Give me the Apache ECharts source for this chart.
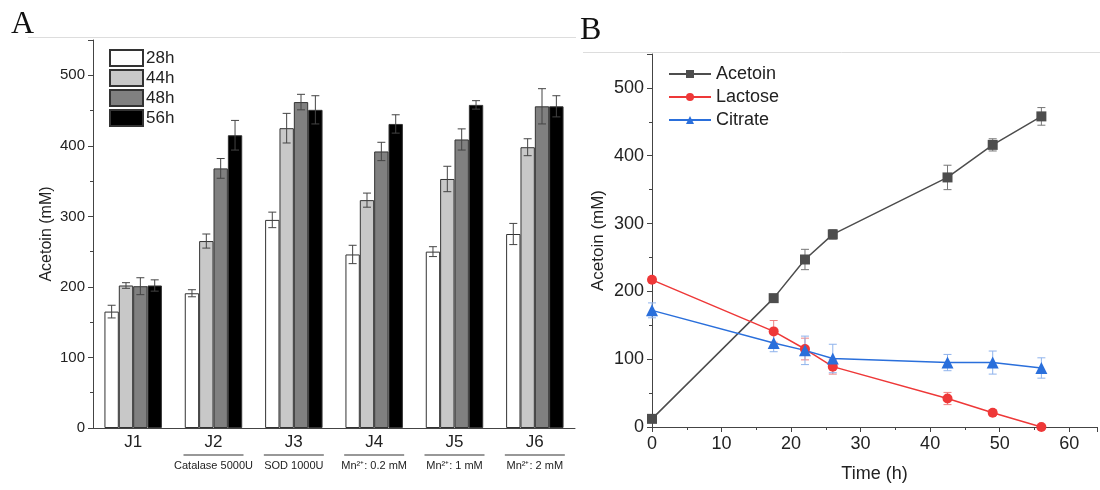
<!DOCTYPE html>
<html>
<head>
<meta charset="utf-8">
<script src="https://cdn.jsdelivr.net/npm/echarts@6/dist/echarts.min.js"></script>
<style>
html, body { margin: 0; padding: 0; background: #fff; }
#main { width: 1100px; height: 490px; }
</style>
</head>
<body>
<div id="main"></div>
<script>
// 面板A：各组别在不同时间的乙偶姻产量
var groups = ['J1', 'J2', 'J3', 'J4', 'J5', 'J6'];
var groupNotes = ['', 'Catalase 5000U', 'SOD 1000U', 'Mn²⁺: 0.2 mM', 'Mn²⁺: 1 mM', 'Mn²⁺: 2 mM'];
var hourNames = ['28h', '44h', '48h', '56h'];
var val28 = [165, 191, 295, 246, 250, 275];
var val44 = [202, 265, 425, 323, 353, 398];
var val48 = [201, 368, 462, 392, 409, 456];
var val56 = [202, 415, 451, 431, 458, 456];
var err28 = [9, 5, 11, 13, 7, 15];
var err44 = [4, 10, 21, 10, 18, 12];
var err48 = [12, 14, 11, 13, 15, 25];
var err56 = [8, 21, 20, 13, 6, 15];

// 面板B：发酵过程曲线
var timeH = [0, 17.5, 22, 26, 42.5, 49, 56];
var acetoin = [12, 190, 247, 284, 368, 416, 458];
var lactose = [217, 141, 115, 89, 42, 21, 0];
var citrate = [172, 124, 113, 101, 95, 95, 87];
var acetoinErr = [3, 4, 15, 7, 18, 9, 13];
var lactoseErr = [4, 16, 16, 11, 9, 4, 0];
var citrateErr = [11, 13, 21, 21, 12, 17, 15];

var barColors = ['#ffffff', '#c8c8c8', '#808080', '#000000'];
var barVals = [val28, val44, val48, val56];
var barErrs = [err28, err44, err48, err56];
var catGap = 0.285;

function errData(vals, errs, xs) {
    var out = [];
    for (var i = 0; i < vals.length; i++) {
        out.push([xs ? xs[i] : i, vals[i] + errs[i], vals[i] - errs[i]]);
    }
    return out;
}

// 柱状图误差线，按柱子序号偏移
function barErrRender(k) {
    return function (params, api) {
        var hi = api.coord([api.value(0), api.value(1)]);
        var lo = api.coord([api.value(0), api.value(2)]);
        var bandW = api.size([1, 0])[0];
        var barW = bandW * (1 - catGap) / 4;
        var x = hi[0] + (k - 1.5) * barW;
        var cap = 4;
        var st = { stroke: '#444', lineWidth: 1 };
        return {
            type: 'group',
            children: [
                { type: 'line', shape: { x1: x, y1: hi[1], x2: x, y2: lo[1] }, style: st },
                { type: 'line', shape: { x1: x - cap, y1: hi[1], x2: x + cap, y2: hi[1] }, style: st },
                { type: 'line', shape: { x1: x - cap, y1: lo[1], x2: x + cap, y2: lo[1] }, style: st }
            ]
        };
    };
}

function lineErrRender(color) {
    return function (params, api) {
        var hi = api.coord([api.value(0), api.value(1)]);
        var lo = api.coord([api.value(0), api.value(2)]);
        var cap = 4;
        var st = { stroke: color, lineWidth: 1 };
        return {
            type: 'group',
            children: [
                { type: 'line', shape: { x1: hi[0], y1: hi[1], x2: lo[0], y2: lo[1] }, style: st },
                { type: 'line', shape: { x1: hi[0] - cap, y1: hi[1], x2: hi[0] + cap, y2: hi[1] }, style: st },
                { type: 'line', shape: { x1: lo[0] - cap, y1: lo[1], x2: lo[0] + cap, y2: lo[1] }, style: st }
            ]
        };
    };
}

var series = [];
for (var k = 0; k < 4; k++) {
    series.push({
        name: hourNames[k],
        type: 'bar',
        xAxisIndex: 0,
        yAxisIndex: 0,
        barGap: 0,
        barCategoryGap: (catGap * 100) + '%',
        data: barVals[k],
        itemStyle: { color: barColors[k], borderColor: '#333', borderWidth: 1 }
    });
}
for (var k = 0; k < 4; k++) {
    series.push({
        type: 'custom',
        xAxisIndex: 0,
        yAxisIndex: 0,
        renderItem: barErrRender(k),
        data: errData(barVals[k], barErrs[k]),
        z: 5,
        silent: true
    });
}

var lineDefs = [
    { name: 'Acetoin', data: acetoin, err: acetoinErr, color: '#4d4d4d', errColor: '#777', symbol: 'rect', size: 10 },
    { name: 'Lactose', data: lactose, err: lactoseErr, color: '#ee3838', errColor: '#f08080', symbol: 'circle', size: 10 },
    { name: 'Citrate', data: citrate, err: citrateErr, color: '#2a6fdb', errColor: '#8fb3ec', symbol: 'triangle', size: 12 }
];
lineDefs.forEach(function (d) {
    var pts = [];
    for (var i = 0; i < timeH.length; i++) pts.push([timeH[i], d.data[i]]);
    series.push({
        name: d.name,
        type: 'line',
        xAxisIndex: 1,
        yAxisIndex: 1,
        data: pts,
        symbol: d.symbol,
        symbolSize: d.size,
        lineStyle: { color: d.color, width: 1.5 },
        itemStyle: { color: d.color },
        z: 4
    });
    series.push({
        type: 'custom',
        xAxisIndex: 1,
        yAxisIndex: 1,
        renderItem: lineErrRender(d.errColor),
        data: errData(d.data, d.err, timeH),
        z: 3,
        silent: true
    });
});

var chart = echarts.init(document.getElementById('main'), null, { renderer: 'canvas' });
var font = 'Liberation Sans, Arial, sans-serif';

var option = {
    backgroundColor: '#fff',
    animation: false,
    textStyle: { fontFamily: font, color: '#222' },
    legend: [{
        data: hourNames,
        orient: 'vertical',
        left: 104,
        top: 44,
        itemWidth: 33,
        itemHeight: 16,
        itemGap: 2,
        icon: 'rect',
        textStyle: { fontSize: 17, color: '#222', padding: [0, 0, 0, -2] },
        selectedMode: false
    }, {
        data: ['Acetoin', 'Lactose', 'Citrate'],
        orient: 'vertical',
        left: 663,
        top: 60,
        itemWidth: 42,
        itemHeight: 10,
        itemGap: 5,
        textStyle: { fontSize: 18, color: '#222' },
        selectedMode: false
    }],
    grid: [
        { left: 93, top: 40, width: 482, height: 388 },
        { left: 652, top: 54, right: 0, height: 373 }
    ],
    xAxis: [{
        type: 'category',
        gridIndex: 0,
        data: groups,
        axisLine: { lineStyle: { color: '#444' } },
        axisTick: { length: 4, lineStyle: { color: '#444' } },
        axisLabel: {
            interval: 0,
            hideOverlap: false,
            margin: 5,
            color: '#222',
            formatter: function (v, i) {
                if (!groupNotes[i]) return '{j|' + v + '}';
                return '{j|' + v + '}\n{u| }\n{s|' + groupNotes[i] + '}';
            },
            rich: {
                j: { fontSize: 17, lineHeight: 19, color: '#222' },
                u: { width: 60, height: 1, lineHeight: 6, backgroundColor: '#333', fontSize: 1 },
                s: { fontSize: 11, lineHeight: 15, color: '#222' }
            }
        }
    }, {
        type: 'value',
        gridIndex: 1,
        min: 0,
        max: 64,
        interval: 10,
        name: 'Time (h)',
        nameLocation: 'middle',
        nameGap: 38,
        nameTextStyle: { fontSize: 18, color: '#222' },
        splitLine: { show: false },
        axisLine: { lineStyle: { color: '#444' } },
        axisTick: { length: 5, lineStyle: { color: '#444' } },
        minorTick: { show: true, splitNumber: 2, length: 3, lineStyle: { color: '#444' } },
        axisLabel: {
            fontSize: 18, color: '#222', margin: 8,
            formatter: function (v) { return v % 10 === 0 ? v : ''; }
        }
    }],
    yAxis: [{
        type: 'value',
        gridIndex: 0,
        min: 0,
        max: 550,
        interval: 100,
        name: 'Acetoin (mM)',
        nameLocation: 'middle',
        nameGap: 38,
        nameTextStyle: { fontSize: 16, color: '#222' },
        splitLine: { show: false },
        axisLine: { show: true, lineStyle: { color: '#444' } },
        axisTick: { show: true, length: 5, lineStyle: { color: '#444' } },
        minorTick: { show: true, splitNumber: 2, length: 3, lineStyle: { color: '#444' } },
        axisLabel: {
            fontSize: 15, color: '#222', margin: 8,
            formatter: function (v) { return v % 100 === 0 ? v : ''; }
        }
    }, {
        type: 'value',
        gridIndex: 1,
        min: 0,
        max: 550,
        interval: 100,
        name: 'Acetoin (mM)',
        nameLocation: 'middle',
        nameGap: 45,
        nameTextStyle: { fontSize: 17, color: '#222' },
        splitLine: { show: false },
        axisLine: { show: true, lineStyle: { color: '#444' } },
        axisTick: { show: true, length: 5, lineStyle: { color: '#444' } },
        minorTick: { show: true, splitNumber: 2, length: 3, lineStyle: { color: '#444' } },
        axisLabel: {
            fontSize: 18, color: '#222', margin: 8,
            formatter: function (v) { return v % 100 === 0 ? v : ''; }
        }
    }],
    graphic: [
        { type: 'text', left: 11, top: 9, style: { text: 'A', font: '32px "Liberation Serif", serif', fill: '#111' } },
        { type: 'text', left: 580, top: 15, style: { text: 'B', font: '32px "Liberation Serif", serif', fill: '#111' } },
        { type: 'line', shape: { x1: 28, y1: 37.5, x2: 576, y2: 37.5 }, style: { stroke: '#ddd', lineWidth: 1 } },
        { type: 'line', shape: { x1: 583, y1: 52.5, x2: 1100, y2: 52.5 }, style: { stroke: '#ddd', lineWidth: 1 } }
    ],
    series: series
};

chart.setOption(option);
</script>
</body>
</html>
